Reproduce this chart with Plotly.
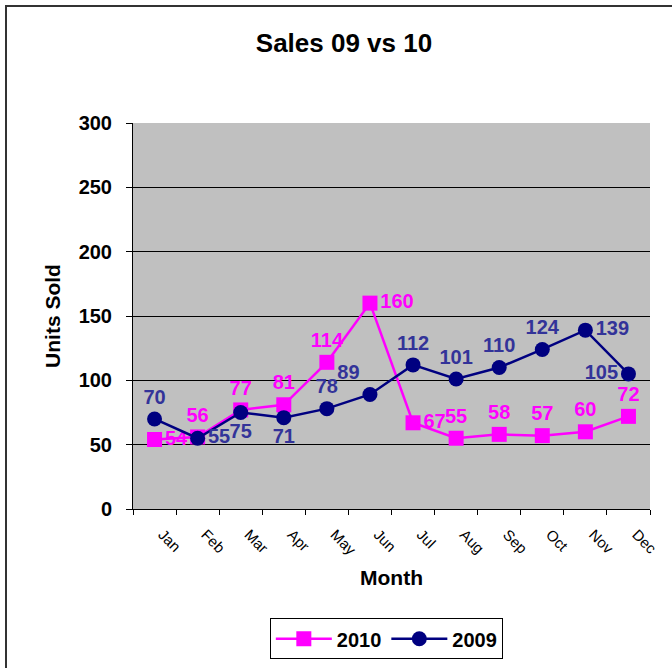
import plotly.graph_objects as go

months = ["Jan", "Feb", "Mar", "Apr", "May", "Jun", "Jul", "Aug", "Sep", "Oct", "Nov", "Dec"]
sales_2010 = [54, 56, 77, 81, 114, 160, 67, 55, 58, 57, 60, 72]
sales_2009 = [70, 55, 75, 71, 78, 89, 112, 101, 110, 124, 139, 105]
y_ticks = [0, 50, 100, 150, 200, 250, 300]

pos_2010 = ["middle right", "top center", "top center", "top center", "top center", "middle right",
            "middle right", "top center", "top center", "top center", "top center", "top center"]
pos_2009 = ["top center", "middle right", "bottom center", "bottom center", "top center", "top left",
            "top center", "top center", "top center", "top center", "middle right", "middle left"]

FONT = "Liberation Sans, Arial, sans-serif"

fig = go.Figure()
fig.add_trace(go.Scatter(
    x=months, y=sales_2010, name="2010", mode="lines+markers+text",
    line=dict(color="#FF00FF", width=2.5),
    marker=dict(symbol="square", size=15, color="#FF00FF"),
    text=[str(v) for v in sales_2010], textposition=pos_2010,
    textfont=dict(family=FONT, size=20, color="#FF00FF", weight="bold"),
    cliponaxis=False,
))
fig.add_trace(go.Scatter(
    x=months, y=sales_2009, name="2009", mode="lines+markers+text",
    line=dict(color="#000080", width=2.5),
    marker=dict(symbol="circle", size=15, color="#000080"),
    text=[str(v) for v in sales_2009], textposition=pos_2009,
    textfont=dict(family=FONT, size=20, color="#333399", weight="bold"),
    cliponaxis=False,
))

fig.update_layout(
    width=672, height=668,
    margin=dict(l=133, r=22, t=123, b=159, autoexpand=False),
    paper_bgcolor="white", plot_bgcolor="#C0C0C0",
    font=dict(family=FONT, color="black"),
    title=dict(text="Sales 09 vs 10", x=344/672, xanchor="center", xref="container",
               y=1 - 43/668, yanchor="middle",
               font=dict(family=FONT, size=26, weight="bold", color="black")),
    showlegend=True,
    legend=dict(orientation="h", x=0.49, xanchor="center", y=-0.283, yanchor="top",
                bordercolor="black", borderwidth=1, bgcolor="white",
                font=dict(family=FONT, size=20, weight="bold", color="black"),
                itemwidth=56, tracegroupgap=0),
    xaxis=dict(type="category", categoryorder="array", categoryarray=months,
               range=[-0.5, 11.5], autorange=False,
               tickson="boundaries", ticks="outside", ticklen=5, tickcolor="black",
               showline=True, linecolor="black", linewidth=1, showgrid=False,
               tickangle=45, ticklabelstandoff=10, ticklabelshift=8,
               tickfont=dict(family=FONT, size=15, color="black"),
               title=dict(text="Month", font=dict(family=FONT, size=21, weight="bold", color="black"),
                          standoff=12)),
    yaxis=dict(range=[0, 300], autorange=False, tickvals=y_ticks, ticks="outside", ticklen=6,
               tickcolor="black", showline=True, linecolor="black", linewidth=1,
               showgrid=True, gridcolor="black", gridwidth=1, zeroline=False,
               ticklabelstandoff=10,
               tickfont=dict(family=FONT, size=20, weight="bold", color="black"),
               title=dict(text="Units Sold", font=dict(family=FONT, size=21, weight="bold", color="black"),
                          standoff=12)),
    shapes=[dict(type="rect", xref="paper", yref="paper",
                 x0=-127/517, x1=1.3, y0=-0.8, y1=(509 - 6)/386,
                 line=dict(color="#333333", width=2), fillcolor="rgba(0,0,0,0)", layer="above")],
)

fig.write_html("out.html", config={"displayModeBar": False},
               post_script="document.body.style.margin='0';")
